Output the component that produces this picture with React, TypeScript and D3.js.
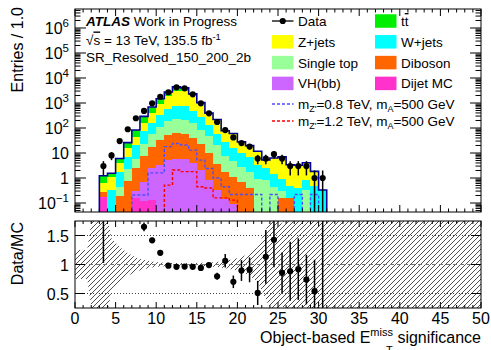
import React from "react";
import * as d3 from "d3";

// ---------- data (bins of width 1, first filled bin starts at 3) ----------
const FIRST_BIN = 3;
const X_MIN = 0;
const X_MAX = 50;

const dataCounts = [3, 8, 30, 89, 245, 480, 975, 1780, 2690, 4240, 3880, 2220, 975, 388, 174, 83, 42, 25, 18, 6, 6, 9, 6, 3, 3, 3, 1, 1];
const ttbar = [0.59, 0.45, 2.2, 10.6, 39, 127, 280, 575, 880, 1512, 1014, 135, 40, 5.8, 4.2, 0, 0, 0, 0, 0, 0, 0, 0, 0, 0, 0, 0, 0];
const zjets = [0.38, 0.76, 2.1, 8.4, 23.7, 91, 245, 569, 1289, 2140, 2271, 1678, 722, 256, 155, 51, 44.6, 18.1, 13, 8.35, 2.8, 4.86, 6.05, 2.9, 2.86, 3.25, 1.35, 0];
const wjets = [0, 0.33, 1.33, 4.7, 14.5, 50, 105, 224, 381, 538, 526, 341, 190, 84, 38.3, 19.5, 10.5, 7.0, 5.1, 2.55, 1.7, 1.0, 0.65, 0.34, 0.4, 0.48, 0.5, 0.33];
const singleTop = [0, 0, 0.24, 1.56, 3.3, 15.8, 40, 82, 142, 165, 156, 117, 62, 35.8, 17, 5.85, 3.7, 2.1, 1.33, 0.88, 0.8, 0.45, 0.15, 0, 0, 0.32, 0, 0];
const diboson = [0.085, 0, 0.19, 0.79, 2.25, 6.6, 15.3, 29, 48, 55, 51.5, 37, 20.6, 9.6, 3.4, 1.56, 1.0, 0.7, 0.39, 0, 0, 0, 0.155, 0.16, 0, 0, 0, 0];
const vhbb = [0, 0, 0, 0, 0.14, 0.6, 2.4, 3.2, 5.4, 5.8, 5.5, 4.0, 2.0, 0.83, 0.33, 0.14, 0.09, 0, 0, 0, 0, 0, 0, 0, 0, 0, 0, 0];
const dijet = [0.18, 0, 0, 0, 0.16, 0.12, 0.13, 0.05, 0, 0, 0, 0, 0, 0, 0, 0, 0, 0, 0, 0, 0, 0, 0, 0, 0, 0, 0, 0];

const signalZp800 = [0, 0, 0, 0, 0.21, 0.21, 1.6, 1.6, 18, 24, 21, 13, 5.2, 2.4, 1.0, 0.45, 0.22, 0.22, 0.22, 0.22, 0, 0.22, 0, 0, 0.22, 0, 0.22, 0];
const signalZp1200 = [0, 0, 0, 0, 0, 0, 0, 0, 0.52, 2.1, 1.8, 1.8, 0.45, 0.4, 0.16, 0.16, 0.13, 0, 0, 0, 0, 0, 0, 0, 0, 0, 0, 0];

// relative MC stat. uncertainty at bin centres 0.5 ... 30.5 (beyond: no MC)
const mcStatRelErr = [0.25, 0.25, 1.2, 1.2, 0.45, 0.3, 0.2, 0.12, 0.08, 0.05, 0.035, 0.03, 0.025, 0.025, 0.025, 0.03, 0.035, 0.045, 0.065, 0.09, 0.13, 0.19, 0.3, 0.6, 0.9, 0.7, 1.0, 1.0, 1.0, 1.0, 1.2];

const processes = [
  { key: "dijet", label: "Dijet MC", color: "#ff33cc", values: dijet },
  { key: "vhbb", label: "VH(bb)", color: "#cc66ff", values: vhbb },
  { key: "diboson", label: "Diboson", color: "#ff6600", values: diboson },
  { key: "singleTop", label: "Single top", color: "#99ff99", values: singleTop },
  { key: "wjets", label: "W+jets", color: "#00ffff", values: wjets },
  { key: "zjets", label: "Z+jets", color: "#ffff00", values: zjets },
  { key: "ttbar", label: "tt", color: "#00ee00", values: ttbar },
];

const signals = [
  { key: "s800", mz: "0.8", color: "#4d4dff", values: signalZp800 },
  { key: "s1200", mz: "1.2", color: "#ff0000", values: signalZp1200 },
];

const yDecades = [-1, 0, 1, 2, 3, 4, 5, 6];
const xMajorTicks = d3.range(0, 51, 5);
const xMinorTicks = d3.range(0, 51, 1);
const ratioTicks = [0.5, 1, 1.5];
const ratioTickLabels = ["0.5", "1", "1.5"];

const FONT = "'Liberation Sans', Arial, Helvetica, sans-serif";

export default function App() {
  const W = 491, H = 350;
  const left = 75, right = 481;
  const mainTop = 9, mainBottom = 212;
  const ratioTop = 221, ratioBottom = 308;

  const x = d3.scaleLinear().domain([X_MIN, X_MAX]).range([left, right]);
  const y = d3.scaleLog().domain([0.0437, 5.75e6]).range([mainBottom, mainTop]);
  const yr = d3.scaleLinear().domain([0.25, 1.75]).range([ratioBottom, ratioTop]);

  const bins = dataCounts.map((_, i) => FIRST_BIN + i);
  const rows = bins.map((b, i) => {
    const r: any = { bin: b };
    processes.forEach((p) => (r[p.key] = p.values[i]));
    return r;
  });
  const stacked = d3.stack<any>().keys(processes.map((p) => p.key))(rows);
  const totals = rows.map((r) => processes.reduce((s, p) => s + r[p.key], 0));

  const below = mainBottom + 10;
  const yc = (v: number) => (v > 0 ? y(v) : below);

  const stepPath = (vals: number[]) => {
    let p = `M${x(bins[0])},${below}`;
    vals.forEach((v, i) => {
      p += `L${x(bins[i])},${yc(v)}L${x(bins[i] + 1)},${yc(v)}`;
    });
    p += `L${x(bins[bins.length - 1] + 1)},${below}`;
    return p;
  };

  // MC stat band in ratio (drawn through bin centres)
  const bandPts: { c: number; e: number }[] = [];
  bandPts.push({ c: X_MIN, e: mcStatRelErr[0] });
  for (let k = 0; k < X_MAX; k++) {
    bandPts.push({ c: k + 0.5, e: k < mcStatRelErr.length ? mcStatRelErr[k] : 5 });
  }
  bandPts.push({ c: X_MAX, e: 5 });
  const bandArea = d3
    .area<{ c: number; e: number }>()
    .x((d) => x(d.c))
    .y0((d) => yr(Math.max(1 - d.e, -2)))
    .y1((d) => yr(Math.min(1 + d.e, 4)));

  const yMinor: number[] = [];
  for (let d = -2; d <= 6; d++) {
    for (let m = 2; m <= 9; m++) {
      const v = m * Math.pow(10, d);
      if (v > y.domain()[0] && v < y.domain()[1]) yMinor.push(v);
    }
  }

  const legendRowY = [21, 41.8, 62.6, 83.4];
  const legendColX = [272, 375];
  const boxW = 21.5, boxH = 13.5;
  const legendItems = [
    { type: "data", label: "Data", col: 0, row: 0 },
    { type: "box", key: "ttbar", col: 1, row: 0 },
    { type: "box", key: "zjets", col: 0, row: 1 },
    { type: "box", key: "wjets", col: 1, row: 1 },
    { type: "box", key: "singleTop", col: 0, row: 2 },
    { type: "box", key: "diboson", col: 1, row: 2 },
    { type: "box", key: "vhbb", col: 0, row: 3 },
    { type: "box", key: "dijet", col: 1, row: 3 },
  ];
  const sigLegendY = [104, 121];

  return (
    <svg
      width={W}
      height={H}
      style={{ position: "absolute", left: 0, top: 0, background: "#fff" }}
      fontFamily={FONT}
    >
      <defs>
        <clipPath id="mainClip">
          <rect x={left} y={mainTop} width={right - left} height={mainBottom - mainTop} />
        </clipPath>
        <clipPath id="ratioClip">
          <rect x={left} y={ratioTop} width={right - left} height={ratioBottom - ratioTop} />
        </clipPath>
        <pattern id="hatch" patternUnits="userSpaceOnUse" width={5} height={5}>
          <path d="M-1,1 l2,-2 M0,5 l5,-5 M4,6 l2,-2" stroke="#222" strokeWidth={0.8} />
        </pattern>
      </defs>

      {/* ---------------- main panel ---------------- */}
      <g clipPath="url(#mainClip)">
        {stacked.map((s, si) => (
          <g key={s.key} fill={processes[si].color}>
            {s.map((d: any, i: number) =>
              d[1] > d[0] ? (
                <rect
                  key={i}
                  x={x(bins[i])}
                  width={x(bins[i] + 1) - x(bins[i])}
                  y={y(d[1])}
                  height={(d[0] > 0 ? y(d[0]) : below) - y(d[1])}
                  shapeRendering="crispEdges"
                />
              ) : null
            )}
          </g>
        ))}
        <path d={stepPath(totals)} fill="none" stroke="#000099" strokeWidth={1.6} />
        {signals.map((s) => (
          <path key={s.key} d={stepPath(s.values)} fill="none" stroke={s.color} strokeWidth={1.4} strokeDasharray="3,2" />
        ))}
        {bins.map((b, i) => {
          const n = dataCounts[i];
          if (n <= 0) return null;
          const cx = x(b + 0.5);
          return (
            <g key={b}>
              <line x1={cx} x2={cx} y1={yc(n - Math.sqrt(n))} y2={y(n + Math.sqrt(n))} stroke="#000" strokeWidth={1.5} />
              <circle cx={cx} cy={y(n)} r={3.1} fill="#000" />
            </g>
          );
        })}
      </g>

      {/* main frame & ticks */}
      <rect x={left} y={mainTop} width={right - left} height={mainBottom - mainTop} fill="none" stroke="#000" strokeWidth={1} />
      {yDecades.map((d) => (
        <g key={d} stroke="#000">
          <line x1={left} x2={left + 11} y1={y(Math.pow(10, d))} y2={y(Math.pow(10, d))} />
          <line x1={right} x2={right - 11} y1={y(Math.pow(10, d))} y2={y(Math.pow(10, d))} />
        </g>
      ))}
      {yMinor.map((v, i) => (
        <g key={i} stroke="#000">
          <line x1={left} x2={left + 5.5} y1={y(v)} y2={y(v)} />
          <line x1={right} x2={right - 5.5} y1={y(v)} y2={y(v)} />
        </g>
      ))}
      {xMinorTicks.map((t) => {
        const major = t % 5 === 0;
        const len = major ? 7 : 3.5;
        return (
          <g key={t} stroke="#000">
            <line x1={x(t)} x2={x(t)} y1={mainBottom} y2={mainBottom - len} />
            <line x1={x(t)} x2={x(t)} y1={mainTop} y2={mainTop + len} />
            <line x1={x(t)} x2={x(t)} y1={ratioBottom} y2={ratioBottom - (major ? 6 : 3)} />
            <line x1={x(t)} x2={x(t)} y1={ratioTop} y2={ratioTop + (major ? 6 : 3)} />
          </g>
        );
      })}
      {yDecades.map((d) => (
        <text key={d} x={69} y={y(Math.pow(10, d)) + 6} textAnchor="end" fontSize={16}>
          {d === 0 ? "1" : "10"}
          {d !== 0 && d !== 1 ? (
            <tspan dy={-7} fontSize={11.5}>
              {d < 0 ? "\u2212" + Math.abs(d) : String(d)}
            </tspan>
          ) : null}
        </text>
      ))}
      <text transform="translate(23,7) rotate(-90)" textAnchor="end" fontSize={16}>
        Entries / 1.0
      </text>

      {/* ATLAS label */}
      <text x={86} y={26} fontSize={13.5}>
        <tspan fontWeight="bold" fontStyle="italic">ATLAS</tspan> Work in Progress
      </text>
      <text x={86} y={44.5} fontSize={13.5}>
        {"\u221A"}
        <tspan style={{ textDecoration: "overline" }}>s</tspan> = 13 TeV, 135.5 fb
        <tspan dy={-5} fontSize={9.5}>-1</tspan>
      </text>
      <text x={86} y={62} fontSize={13.5}>
        SR_Resolved_150_200_2b
      </text>

      {/* legend */}
      {legendItems.map((it, i) => {
        const bx = legendColX[it.col];
        const cy = legendRowY[it.row];
        if (it.type === "data") {
          return (
            <g key={i}>
              <line x1={bx} x2={bx + boxW} y1={cy} y2={cy} stroke="#000" strokeWidth={1.3} />
              <circle cx={bx + boxW / 2} cy={cy} r={3.1} fill="#000" />
              <text x={bx + 26} y={cy + 5} fontSize={13.5}>
                {it.label}
              </text>
            </g>
          );
        }
        const p = processes.find((q) => q.key === it.key)!;
        return (
          <g key={i}>
            <rect x={bx} y={cy - boxH / 2} width={boxW} height={boxH} fill={p.color} />
            <text x={bx + 26} y={cy + 5} fontSize={13.5}>
              {p.key === "ttbar" ? (
                <>
                  t<tspan style={{ textDecoration: "overline" }}>t</tspan>
                </>
              ) : (
                p.label
              )}
            </text>
          </g>
        );
      })}
      {signals.map((s, i) => (
        <g key={s.key}>
          <line x1={legendColX[0]} x2={legendColX[0] + boxW} y1={sigLegendY[i]} y2={sigLegendY[i]} stroke={s.color} strokeWidth={1.3} strokeDasharray="3,2" />
          <text x={legendColX[0] + 26} y={sigLegendY[i] + 4.5} fontSize={13.5}>
            m<tspan dy={3} fontSize={9}>Z'</tspan>
            <tspan dy={-3}>={s.mz} TeV, m</tspan>
            <tspan dy={3} fontSize={9}>A</tspan>
            <tspan dy={-3}>=500 GeV</tspan>
          </text>
        </g>
      ))}

      {/* ---------------- ratio panel ---------------- */}
      <g clipPath="url(#ratioClip)">
        <path d={bandArea(bandPts) || ""} fill="url(#hatch)" stroke="none" />
        <line x1={left} x2={right} y1={yr(1)} y2={yr(1)} stroke="#777" strokeDasharray="4,3" strokeWidth={1} />
        <line x1={left} x2={right} y1={yr(0.5)} y2={yr(0.5)} stroke="#444" strokeDasharray="1,2" strokeWidth={1} />
        <line x1={left} x2={right} y1={yr(1.5)} y2={yr(1.5)} stroke="#444" strokeDasharray="1,2" strokeWidth={1} />
        {bins.map((b, i) => {
          const n = dataCounts[i];
          const t = totals[i];
          if (n <= 0 || t <= 0) return null;
          const r = n / t;
          const e = Math.sqrt(n) / t;
          const cx = x(b + 0.5);
          return (
            <g key={b}>
              <line x1={cx} x2={cx} y1={yr(Math.max(r - e, -1))} y2={yr(Math.min(r + e, 4))} stroke="#000" strokeWidth={1.5} />
              <circle cx={cx} cy={yr(r)} r={3.1} fill="#000" />
            </g>
          );
        })}
      </g>
      <rect x={left} y={ratioTop} width={right - left} height={ratioBottom - ratioTop} fill="none" stroke="#000" strokeWidth={1} />
      {ratioTicks.map((t, i) => (
        <g key={t}>
          <line x1={left} x2={left + 10} y1={yr(t)} y2={yr(t)} stroke="#000" />
          <line x1={right} x2={right - 10} y1={yr(t)} y2={yr(t)} stroke="#000" />
          <text x={69} y={yr(t) + 6} textAnchor="end" fontSize={16}>
            {ratioTickLabels[i]}
          </text>
        </g>
      ))}
      {xMajorTicks.map((t) => (
        <text key={t} x={x(t)} y={324} textAnchor="middle" fontSize={16}>
          {t}
        </text>
      ))}
      <text transform="translate(23,222) rotate(-90)" textAnchor="end" fontSize={16}>
        Data/MC
      </text>
      <text x={481} y={343} textAnchor="end" fontSize={16}>
        Object-based E<tspan dy={-7} fontSize={11}>miss</tspan>
        <tspan dy={7}> significance</tspan>
      </text>
      <text x={386} y={354} fontSize={11}>
        T
      </text>
    </svg>
  );
}
